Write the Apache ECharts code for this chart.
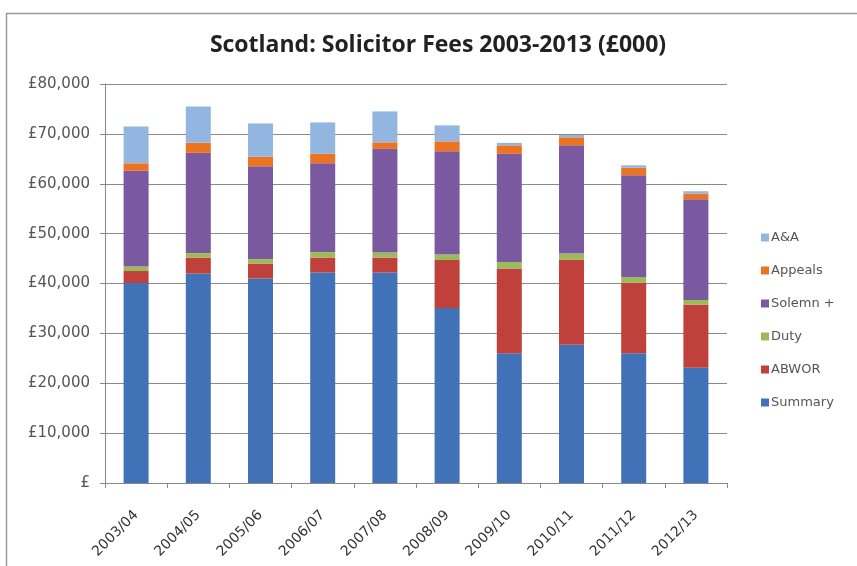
<!DOCTYPE html>
<html>
<head>
<meta charset="utf-8">
<script src="https://cdn.jsdelivr.net/npm/echarts@6/dist/echarts.min.js"></script>
<style>html,body{margin:0;padding:0;background:#fff}#c{width:857px;height:566px}</style>
</head>
<body>
<div id="c"></div>
<script>
const categories = ['2003/04','2004/05','2005/06','2006/07','2007/08','2008/09','2009/10','2010/11','2011/12','2012/13'];
const summary = [40100, 42000, 41000, 42200, 42200, 35100, 26000, 27700, 26000, 23100];
const abwor   = [2400, 3200, 3000, 3000, 3000, 9600, 17000, 17100, 14200, 12700];
const duty    = [900, 900, 900, 1100, 1000, 1100, 1300, 1200, 1100, 900];
const solemn  = [19200, 20100, 18600, 17800, 20800, 20700, 21700, 21700, 20400, 20200];
const appeals = [1500, 2000, 1900, 1900, 1300, 2000, 1700, 1600, 1500, 1100];
const aa      = [7400, 7300, 6700, 6300, 6200, 3200, 500, 500, 500, 500];
const yTicks  = [0, 10000, 20000, 30000, 40000, 50000, 60000, 70000, 80000];

const seriesDefs = [
  ['Summary', summary, '#4172b8'],
  ['ABWOR', abwor, '#c0403b'],
  ['Duty', duty, '#9bbb59'],
  ['Solemn +', solemn, '#7a59a0'],
  ['Appeals', appeals, '#ec7320'],
  ['A&A', aa, '#93b6e0']
];

const chart = echarts.init(document.getElementById('c'), null, {renderer: 'canvas'});
chart.setOption({
  backgroundColor: '#fff',
  animation: false,
  textStyle: {fontFamily: 'DejaVu Sans'},
  graphic: [{
    type: 'rect', shape: {x: 6.5, y: 13.5, width: 900, height: 600},
    style: {fill: 'none', stroke: '#9a9a9a', lineWidth: 1.5}, silent: true, z: -1
  }],
  title: {
    text: 'Scotland: Solicitor Fees 2003-2013 (£000)',
    left: 433, top: 29, textAlign: 'center',
    textStyle: {fontFamily: 'Open Sans', fontWeight: 'bold', fontSize: 23, color: '#222'}
  },
  legend: {
    orient: 'vertical', left: 756, top: 226, itemGap: 20,
    itemWidth: 8, itemHeight: 8, icon: 'rect',
    data: ['A&A', 'Appeals', 'Solemn +', 'Duty', 'ABWOR', 'Summary'],
    textStyle: {fontFamily: 'DejaVu Sans', fontSize: 13, color: '#555', padding: [0, 0, 0, -3]}
  },
  grid: {left: 105, right: 130, top: 84, bottom: 83, containLabel: false},
  xAxis: {
    type: 'category', data: categories,
    axisLine: {lineStyle: {color: '#888', width: 1}},
    axisTick: {show: true, length: 5, lineStyle: {color: '#888'}},
    axisLabel: {rotate: 45, fontSize: 14, color: '#333', margin: 30, fontFamily: 'DejaVu Sans'}
  },
  yAxis: {
    type: 'value', min: yTicks[0], max: yTicks[yTicks.length - 1], interval: 10000,
    axisLine: {show: true, lineStyle: {color: '#888'}},
    axisTick: {show: true, length: 5, lineStyle: {color: '#888'}},
    splitLine: {lineStyle: {color: '#8a8a8a', width: 1}},
    axisLabel: {
      fontSize: 15, color: '#555', margin: 15, fontFamily: 'DejaVu Sans',
      formatter: v => v === 0 ? '£' : '£' + v.toLocaleString('en-GB')
    }
  },
  series: seriesDefs.map(([name, data, color]) => ({
    name, type: 'bar', stack: 'fees', data, barWidth: 25,
    itemStyle: {color}
  }))
});
</script>
</body>
</html>
